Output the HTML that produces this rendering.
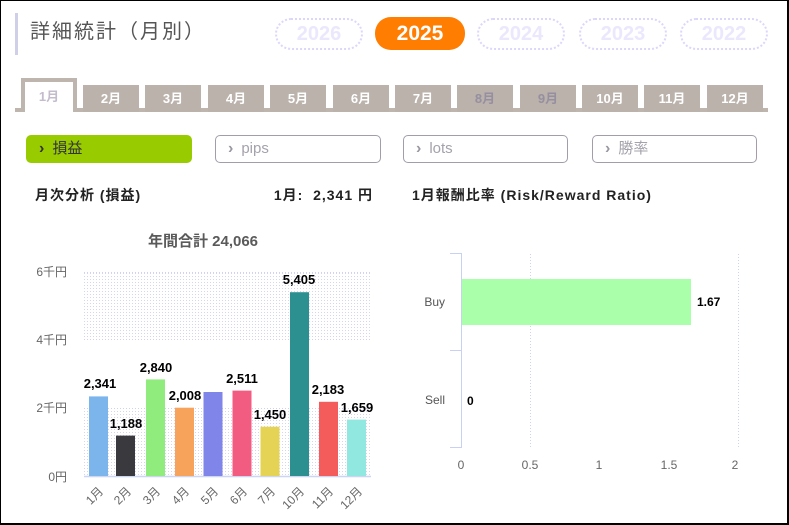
<!DOCTYPE html>
<html><head><meta charset="utf-8">
<style>
*{margin:0;padding:0;box-sizing:border-box}
html,body{width:789px;height:525px;background:#fff;overflow:hidden}
body{position:relative;font-family:"Liberation Sans","Noto Sans CJK JP",sans-serif}
.frame{position:absolute;left:0;top:0;width:789px;height:525px;border-left:1px solid #000;border-top:1px solid #000;border-right:2px solid #000;border-bottom:2px solid #000}
.abs{position:absolute}
.title{left:30px;top:18px;font-size:20px;letter-spacing:2px;color:#555;line-height:28px;white-space:nowrap}
.tbar{left:15px;top:13px;width:3px;height:42px;background:#cfcfe8}
.pill{top:18px;height:32px;width:88px;border:2px dotted #ddd6fb;border-radius:16px;color:#ebe7fd;font-size:20px;font-weight:bold;text-align:center;line-height:28px}
.pill.on{background:#ff7d00;border:none;color:#fff;top:17px;height:33px;width:90px;line-height:33px;font-size:21px}
.tabbase{left:15px;top:108px;width:753px;height:4px;background:#bdb5ae}
.tab{top:85px;width:56px;height:27px;background:#bab2ab;color:#fff;font-weight:bold;font-size:13px;text-align:center;line-height:27px}
.tab.dim{color:#968fa0}
.tab.act{top:78px;height:34px;background:#fff;border:4px solid #bdb5ae;border-bottom:none;color:#c4bccc;line-height:30px;left:21px}
.btn{top:135px;height:28px;border:1px solid #a39daa;border-radius:5px;color:#a4a2ab;font-size:15px;line-height:26px;padding-left:12px;white-space:nowrap}
.btn b{font-size:16px;margin-right:8px;color:#9a97a0}
.btn.g{background:#99cc00;border-color:#99cc00;color:#333}
.btn.g b{color:#333}
.h{top:186px;font-size:14px;letter-spacing:1px;font-weight:bold;color:#222;line-height:18px;white-space:nowrap}
</style></head><body>
<div class="abs tbar"></div>
<div class="abs title">詳細統計（月別）</div>
<div class="abs pill" style="left:275px">2026</div>
<div class="abs pill on" style="left:375px">2025</div>
<div class="abs pill" style="left:477px">2024</div>
<div class="abs pill" style="left:579px">2023</div>
<div class="abs pill" style="left:680px">2022</div>

<div class="abs tabbase"></div>
<div class="abs tab act" style="width:56px">1月</div>
<div class="abs tab" style="left:83px">2月</div>
<div class="abs tab" style="left:145px">3月</div>
<div class="abs tab" style="left:208px">4月</div>
<div class="abs tab" style="left:270px">5月</div>
<div class="abs tab" style="left:333px">6月</div>
<div class="abs tab" style="left:395px">7月</div>
<div class="abs tab dim" style="left:457px">8月</div>
<div class="abs tab dim" style="left:520px">9月</div>
<div class="abs tab" style="left:582px">10月</div>
<div class="abs tab" style="left:644px">11月</div>
<div class="abs tab" style="left:707px">12月</div>

<div class="abs btn g" style="left:26px;width:166px"><b>›</b>損益</div>
<div class="abs btn" style="left:215px;width:166px"><b>›</b>pips</div>
<div class="abs btn" style="left:403px;width:165px"><b>›</b>lots</div>
<div class="abs btn" style="left:592px;width:165px"><b>›</b>勝率</div>

<div class="abs h" style="left:35px">月次分析 (損益)</div>
<div class="abs h" style="left:240px;width:133px;text-align:right">1月:&nbsp; 2,341 円</div>
<div class="abs h" style="left:412px">1月報酬比率 (Risk/Reward Ratio)</div>

<svg class="abs" style="left:0;top:0" width="789" height="525" xmlns="http://www.w3.org/2000/svg" font-family="Liberation Sans, Noto Sans CJK JP, sans-serif">
  <defs>
    <pattern id="dots" width="3" height="3" patternUnits="userSpaceOnUse">
      <rect width="3" height="3" fill="#ffffff"/>
      <rect width="1" height="1" fill="#d6d4f4"/>
    </pattern>
  </defs>
  <text x="203" y="246" text-anchor="middle" font-size="15" font-weight="bold" fill="#5a5a5a">年間合計 24,066</text>
  <!-- bands -->
  <rect x="84" y="272" width="287" height="68" fill="url(#dots)"/>
  <rect x="84" y="408" width="287" height="68" fill="url(#dots)"/>
  <g stroke="#d0d0f4" stroke-width="1" stroke-dasharray="1,2">
    <line x1="84" y1="272.5" x2="371" y2="272.5"/>
    <line x1="84" y1="339.5" x2="371" y2="339.5"/>
    <line x1="84" y1="408.5" x2="371" y2="408.5"/>
  </g>
  <line x1="84" y1="476.5" x2="371" y2="476.5" stroke="#ccd6f4" stroke-width="1.5"/>
  <g font-size="12" fill="#666" text-anchor="end">
    <text x="67" y="276">6千円</text>
    <text x="67" y="344">4千円</text>
    <text x="67" y="412">2千円</text>
    <text x="67" y="481">0円</text>
  </g>
  <!-- bars -->
  <g>
    <rect x="89" y="396.4" width="19" height="79.6" fill="#7cb5ec"/>
    <rect x="116" y="435.6" width="19" height="40.4" fill="#3a3a3e"/>
    <rect x="146" y="379.4" width="19" height="96.6" fill="#90ed7d"/>
    <rect x="175" y="407.7" width="19" height="68.3" fill="#f7a35c"/>
    <rect x="203.5" y="392" width="19" height="84" fill="#8085e9"/>
    <rect x="232.5" y="390.6" width="19" height="85.4" fill="#f15c80"/>
    <rect x="260.5" y="426.7" width="19" height="49.3" fill="#e4d354"/>
    <rect x="290" y="292.2" width="19" height="183.8" fill="#2b908f"/>
    <rect x="319" y="401.8" width="19" height="74.2" fill="#f45b5b"/>
    <rect x="347" y="419.6" width="19" height="56.4" fill="#91e8e1"/>
  </g>
  <g font-size="13" font-weight="bold" fill="#000" text-anchor="middle">
    <text x="100" y="388">2,341</text>
    <text x="126" y="428">1,188</text>
    <text x="156" y="372">2,840</text>
    <text x="185" y="400">2,008</text>
    <text x="242" y="383">2,511</text>
    <text x="270" y="419">1,450</text>
    <text x="299" y="284">5,405</text>
    <text x="328" y="394">2,183</text>
    <text x="357" y="412">1,659</text>
  </g>
  <g font-size="12" fill="#666" text-anchor="end">
    <text x="104" y="492" transform="rotate(-45 104 492)">1月</text>
    <text x="132" y="492" transform="rotate(-45 132 492)">2月</text>
    <text x="161" y="492" transform="rotate(-45 161 492)">3月</text>
    <text x="190" y="492" transform="rotate(-45 190 492)">4月</text>
    <text x="219" y="492" transform="rotate(-45 219 492)">5月</text>
    <text x="248" y="492" transform="rotate(-45 248 492)">6月</text>
    <text x="276" y="492" transform="rotate(-45 276 492)">7月</text>
    <text x="305" y="492" transform="rotate(-45 305 492)">10月</text>
    <text x="334" y="492" transform="rotate(-45 334 492)">11月</text>
    <text x="363" y="492" transform="rotate(-45 363 492)">12月</text>
  </g>

  <!-- right chart -->
  <g stroke="#d0d0f4" stroke-width="1" stroke-dasharray="1,2">
    <line x1="530.5" y1="254" x2="530.5" y2="448"/>
    <line x1="738.5" y1="254" x2="738.5" y2="448"/>
  </g>
  <g stroke="#c8d0f4" stroke-width="1">
    <line x1="461.5" y1="253" x2="461.5" y2="448"/>
    <line x1="450" y1="253.5" x2="461" y2="253.5"/>
    <line x1="450" y1="350.5" x2="461" y2="350.5"/>
    <line x1="450" y1="447.5" x2="461" y2="447.5"/>
  </g>
  <rect x="462" y="279" width="229" height="46" fill="#aaffaa"/>
  <g font-size="12" fill="#555" text-anchor="end">
    <text x="445" y="306">Buy</text>
    <text x="445" y="404">Sell</text>
  </g>
  <text x="697" y="306" font-size="12" font-weight="bold" fill="#000">1.67</text>
  <text x="467" y="405" font-size="12" font-weight="bold" fill="#000">0</text>
  <g font-size="12" fill="#666" text-anchor="middle">
    <text x="461" y="469">0</text>
    <text x="530" y="469">0.5</text>
    <text x="599" y="469">1</text>
    <text x="669" y="469">1.5</text>
    <text x="735" y="469">2</text>
  </g>
</svg>
<div class="frame"></div>
</body></html>
